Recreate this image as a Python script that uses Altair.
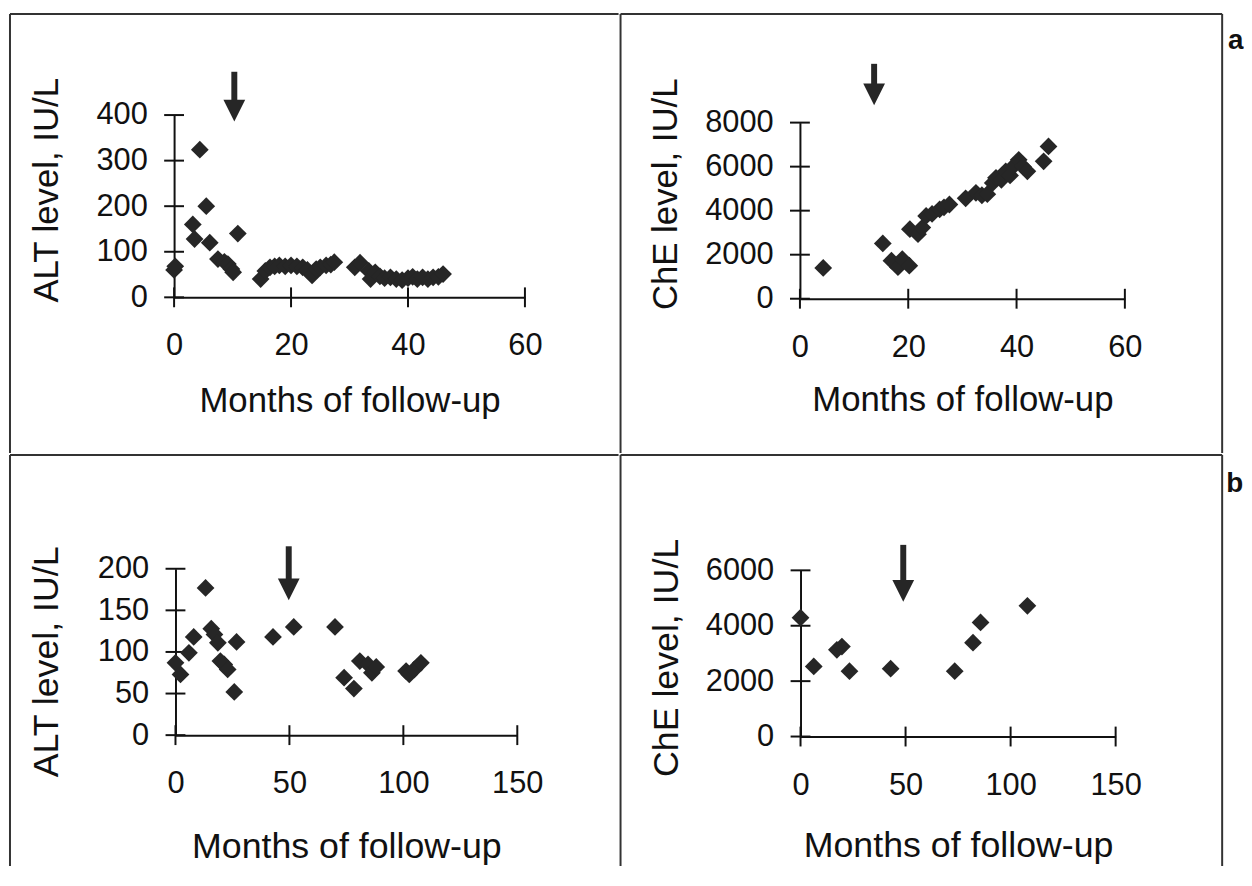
import altair as alt
import pandas as pd

# ---------------- data ----------------
# a: ALT, months of follow-up
a_alt_month = [0, 0.2, 3.2, 3.5, 4.4, 5.5, 6.1, 7.5, 8.6, 9.2, 9.8, 10.1, 10.9,
               14.8, 15.6, 16.4, 17.2, 18.0, 19.0, 20.0, 21.0, 22.0, 22.8, 23.6, 24.3, 25.0, 26.0, 26.8, 27.4,
               30.9, 31.8, 33.3, 33.6, 34.4, 35.2, 36.0, 37.0, 38.0, 39.0, 40.0, 40.8, 41.6, 42.5, 43.4, 44.3, 45.2, 46.0]
a_alt_value = [60, 68, 160, 128, 324, 200, 120, 84, 78, 73, 62, 55, 140,
               40, 58, 66, 68, 70, 68, 70, 68, 66, 60, 48, 62, 66, 70, 72, 77,
               66, 76, 58, 40, 55, 46, 42, 44, 40, 38, 42, 45, 40, 44, 40, 44, 45, 51]

# a: ChE
a_che_month = [4.3, 15.3, 16.9, 18.1, 18.9, 20.2, 20.3, 21.8, 22.6, 23.3, 24.4, 25.8, 26.6, 27.6,
               30.6, 32.5, 33.6, 34.6, 35.6, 36.2, 37.2, 38.0, 38.8, 39.4, 40.4, 41.2, 42.0, 45.0, 45.9]
a_che_value = [1400, 2510, 1730, 1430, 1800, 1500, 3160, 2930, 3230, 3760, 3850, 4060, 4150, 4280,
               4560, 4810, 4700, 4750, 5260, 5490, 5400, 5790, 5600, 6010, 6310, 6000, 5790, 6240, 6920]

# b: ALT
b_alt_month = [0, 2.2, 5.9, 8.0, 13.2, 15.7, 17.1, 18.6, 19.7, 21.4, 22.9, 25.8, 26.8,
               42.8, 51.9, 70.0, 74.0, 78.3, 80.9, 84.5, 86.2, 88.1, 101.2, 102.6, 104.8, 107.7]
b_alt_value = [87, 73, 99, 118, 177, 128, 121, 111, 89, 85, 79, 52, 112,
               118, 130, 130, 69, 56, 89, 85, 75, 82, 77, 73, 79, 87]

# b: ChE
b_che_month = [0, 6.3, 17.3, 19.7, 23.3, 42.9, 73.4, 82.1, 85.7, 108.0]
b_che_value = [4290, 2530, 3130, 3250, 2360, 2450, 2360, 3390, 4120, 4720]

# arrows: month, top of shaft, tip (in axis units)
a_alt_arrow = [10.3, 495, 386]
a_che_arrow = [13.7, 10670, 8790]
b_alt_arrow = [49.7, 227, 162]
b_che_arrow = [48.9, 6920, 4860]

# axis ticks
a_x_ticks = [0, 20, 40, 60]
b_x_ticks = [0, 50, 100, 150]
a_alt_ticks = [0, 100, 200, 300, 400]
a_che_ticks = [0, 2000, 4000, 6000, 8000]
b_alt_ticks = [0, 50, 100, 150, 200]
b_che_ticks = [0, 2000, 4000, 6000]

X_TITLE = "Months of follow-up"
FONT = "Liberation Sans"
INK = "#111111"
PT = "#262626"
FRAME = "#333333"


def panel(months, values, xticks, xrng, yticks, yrng, ytitle, W, H, arrow,
          ytitle_x, ytitle_y, xtitle_y, right_edge=False,
          tag=None, tag_xy=None, lab_fs=31, tit_fs=35, xpad=34, ypad=27):
    x0, x1 = xrng
    y0, y1 = yrng
    xs = alt.Scale(domain=[xticks[0], xticks[-1]], range=[x0, x1], nice=False, zero=False)
    ys = alt.Scale(domain=[yticks[0], yticks[-1]], range=[y0, y1], nice=False, zero=False)
    xaxis = alt.Axis(values=xticks, ticks=False, tickSize=0, grid=False, format="d",
                     labelFontSize=lab_fs, labelFont=FONT, labelColor=INK,
                     labelPadding=xpad, labelFlush=False, labelOverlap=False,
                     domainColor=INK, domainWidth=2, offset=y0 - H,
                     title=X_TITLE, titleFont=FONT, titleFontSize=tit_fs,
                     titleFontWeight="normal", titleColor=INK,
                     titleY=xtitle_y, titleBaseline="alphabetic")
    yaxis = alt.Axis(values=yticks, ticks=False, tickSize=0, grid=False, format="d",
                     labelFontSize=lab_fs, labelFont=FONT, labelColor=INK,
                     labelPadding=ypad, labelFlush=False, labelOverlap=False,
                     domainColor=INK, domainWidth=2, offset=-x0,
                     title=ytitle, titleFont=FONT, titleFontSize=tit_fs,
                     titleFontWeight="normal", titleColor=INK,
                     titleX=ytitle_x, titleY=ytitle_y, titleAngle=270,
                     titleAlign="center", titleBaseline="middle")

    def X(f="x"):
        return alt.X(f"{f}:Q", scale=xs, axis=xaxis)

    def Y(f="y"):
        return alt.Y(f"{f}:Q", scale=ys, axis=yaxis)

    pts = pd.DataFrame({"x": months, "y": values})
    tx = pd.DataFrame({"x": xticks})
    ty = pd.DataFrame({"y": yticks})
    ar = pd.DataFrame({"x": [arrow[0]], "y": [arrow[1]], "y2": [arrow[2]]})
    one = pd.DataFrame({"k": [0]})

    # frame of the cell (top + left, plus right where needed)
    frame = [
        alt.Chart(one).mark_rule(color=FRAME, strokeWidth=2).encode(
            x=alt.value(0), x2=alt.value(W), y=alt.value(0)),
        alt.Chart(one).mark_rule(color=FRAME, strokeWidth=2).encode(
            x=alt.value(0), y=alt.value(0), y2=alt.value(H)),
    ]
    if right_edge:
        frame.append(alt.Chart(one).mark_rule(color=FRAME, strokeWidth=2).encode(
            x=alt.value(W), y=alt.value(0), y2=alt.value(H)))

    points = alt.Chart(pts).mark_point(shape="diamond", filled=True, size=320,
                                        color=PT, opacity=1).encode(x=X(), y=Y())
    xt = alt.Chart(tx).mark_rule(color=INK, strokeWidth=2).encode(
        x=X(), y=alt.value(y0 - 10), y2=alt.value(y0 + 10))
    yt = alt.Chart(ty).mark_rule(color=INK, strokeWidth=2).encode(
        y=Y(), x=alt.value(x0 - 10), x2=alt.value(x0 + 10))
    shaft = alt.Chart(ar).mark_rule(color=PT, strokeWidth=6, y2Offset=-12).encode(
        x=X(), y=Y("y"), y2=alt.Y2("y2:Q"))
    head = alt.Chart(ar).mark_point(shape="M-1,-1L1,-1L0,1Z", filled=True, size=480,
                                     color=PT, opacity=1, yOffset=-11).encode(
        x=X(), y=Y("y2"))
    layers = frame + [xt, yt, points, shaft, head]
    if tag:
        tg = alt.Chart(pd.DataFrame({"t": [tag]})).mark_text(
            font=FONT, fontSize=28, fontWeight="bold", color="#111",
            align="left", baseline="alphabetic").encode(
            text="t:N", x=alt.value(tag_xy[0]), y=alt.value(tag_xy[1]))
        layers.append(tg)
    return alt.layer(*layers).properties(width=W, height=H)


H_TOP = 442
H_BOT = 414

p1 = panel(a_alt_month, a_alt_value, a_x_ticks, [165.3, 518.7], a_alt_ticks, [285.3, 101.7],
           "ALT level, IU/L", 613, H_TOP, a_alt_arrow, -128, 177, 115)
p2 = panel(a_che_month, a_che_value, a_x_ticks, [180.7, 508.0], a_che_ticks, [286.7, 109.3],
           "ChE level, IU/L", 606, H_TOP, a_che_arrow, -135, 181, 113,
           right_edge=True, tag="a", tag_xy=(612, 35))
p3 = panel(b_alt_month, b_alt_value, b_x_ticks, [166.7, 511.0], b_alt_ticks, [282.3, 114.7],
           "ALT level, IU/L", 613, H_BOT, b_alt_arrow, -130, 208, 123, tit_fs=36)
p4 = panel(b_che_month, b_che_value, b_x_ticks, [181.3, 498.7], b_che_ticks, [283.7, 116.3],
           "ChE level, IU/L", 606, H_BOT, b_che_arrow, -135, 204, 121, tit_fs=36,
           right_edge=True, tag="b", tag_xy=(610, 37))

chart = alt.vconcat(
    alt.hconcat(p1, p2, spacing=0),
    alt.hconcat(p3, p4, spacing=0),
    spacing=0,
).properties(
    padding={"left": 1, "top": 2, "right": 0, "bottom": 0},
    background="white",
).configure_view(
    stroke=None
).configure_concat(spacing=0)

chart.save("out.html", embed_options={"renderer": "svg", "actions": False})
